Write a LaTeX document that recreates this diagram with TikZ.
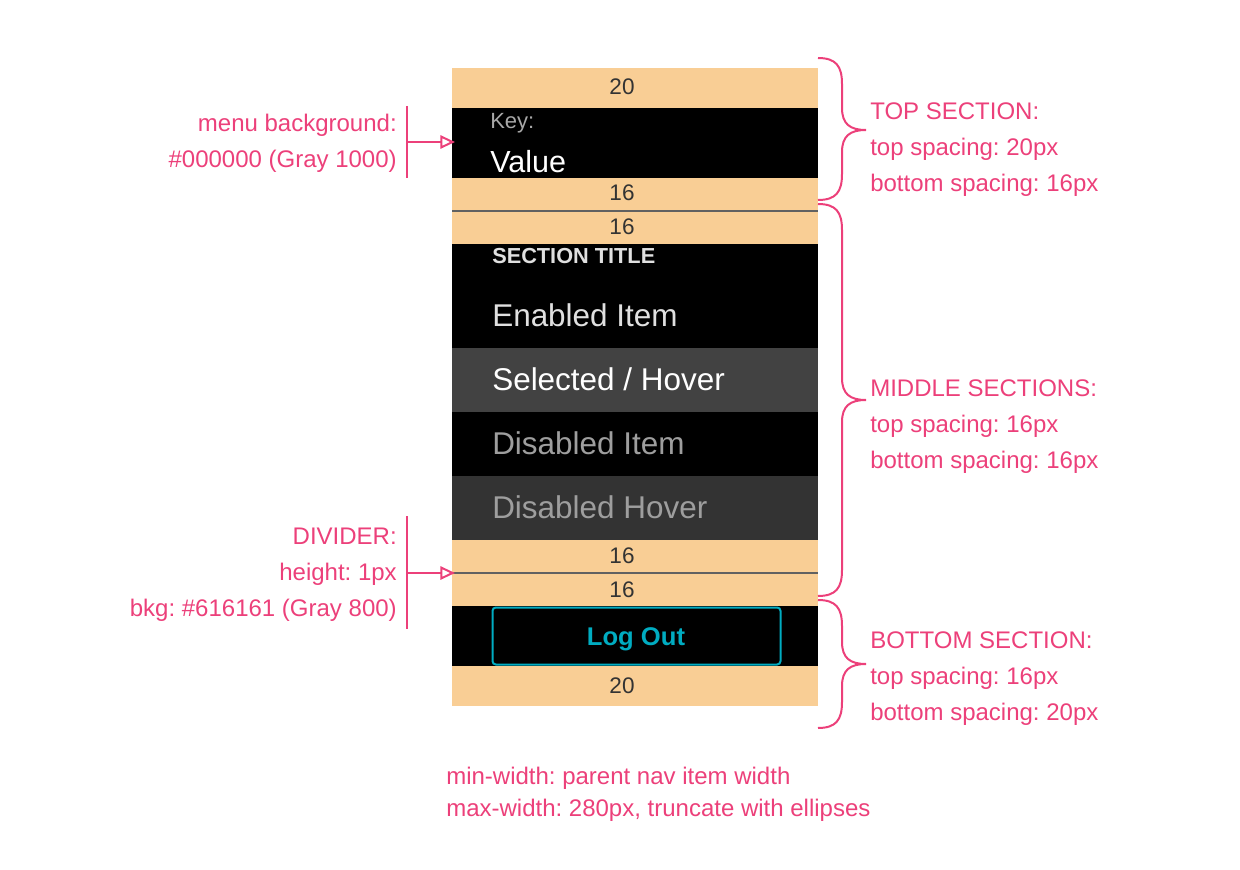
\documentclass[tikz,border=0pt]{standalone}
\usepackage{fontspec}
\setmainfont{Liberation Sans}
\frenchspacing
\usetikzlibrary{arrows.meta}
\definecolor{annoc}{HTML}{EC407A}
\definecolor{orangec}{HTML}{F9CE95}
\definecolor{divc}{HTML}{616161}
\definecolor{selc}{HTML}{424242}
\definecolor{dishc}{HTML}{333333}
\definecolor{numc}{HTML}{333333}
\definecolor{keyc}{HTML}{A8A8A8}
\definecolor{itemc}{HTML}{E0E0E0}
\definecolor{disc}{HTML}{9E9E9E}
\definecolor{cyanc}{HTML}{00ACC1}
\newcommand{\mybrace}[3]{%
  \draw[brace] (818,#1) .. controls (836,#1) and (842,{#1+8}) .. (842,{#1+26})
    -- (842,{#2-22}) .. controls (842,{#2-6}) and (850,#2) .. (866,#2)
    .. controls (850,#2) and (842,{#2+6}) .. (842,{#2+22})
    -- (842,{#3-26}) .. controls (842,{#3-8}) and (836,#3) .. (818,#3);}
\begin{document}
\begin{tikzpicture}[x=0.75pt,y=-0.75pt,
  anno/.style={text=annoc, font=\fontsize{18}{18}\selectfont, inner sep=0},
  annoR/.style={anno, anchor=base west},
  annoL/.style={anno, anchor=base east},
  num/.style={text=numc, font=\fontsize{16.9}{17}\selectfont, inner sep=0, anchor=base},
  item/.style={font=\fontsize{23.6}{24}\selectfont, inner sep=0, anchor=base west},
  annoline/.style={draw=annoc, line width=1.5pt},
  brace/.style={draw=annoc, line width=1.5pt},
  pointer/.style={annoline, -{Triangle[open, length=11pt, width=10pt]}},
  divline/.style={draw=divc, line width=1.5pt}]
\useasboundingbox (0,0) rectangle (1240,870);
% menu rows
\fill[orangec] (452,68) rectangle (818,108);
\fill[black] (452,108) rectangle (818,178);
\fill[orangec] (452,178) rectangle (818,244);
\fill[black] (452,244) rectangle (818,348);
\fill[selc] (452,348) rectangle (818,412);
\fill[black] (452,412) rectangle (818,476);
\fill[dishc] (452,476) rectangle (818,540);
\fill[orangec] (452,540) rectangle (818,606);
\fill[black] (452,606) rectangle (818,666);
\fill[orangec] (452,666) rectangle (818,706);
\draw[divline] (452,211) -- (818,211);
\draw[divline] (452,573) -- (818,573);
\coordinate (menuL) at (455,142);
\coordinate (divL) at (455,573);
% numbers
\node[num] (n1) at (622,95) {20};
\node[num] (n2) at (622,201) {16};
\node[num] (n3) at (622,235) {16};
\node[num] (n4) at (622,563) {16};
\node[num] (n5) at (622,597) {16};
\node[num] (n6) at (622,693) {20};
% items
\node[anchor=base west, inner sep=0, text=keyc, font=\fontsize{16.5}{17}\selectfont] (key) at (490,129) {Key:};
\node[anchor=base west, inner sep=0, text=white, font=\fontsize{22.9}{23}\selectfont] (value) at (490,173) {Value};
\node[anchor=base west, inner sep=0, text=itemc, font=\bfseries\fontsize{16.3}{17}\selectfont] (stitle) at (492,264) {SECTION TITLE};
\node[item, text=itemc] (enabled) at (492,326) {Enabled Item};
\node[item, text=white] (selected) at (492,390) {Selected / Hover};
\node[item, text=disc] (disabled) at (492,454) {Disabled Item};
\node[item, text=disc] (dishover) at (492,518) {Disabled Hover};
\node[draw=cyanc, line width=1.5pt, rounded corners=2.5pt, minimum width=216pt, minimum height=42.75pt, inner sep=0] (logoutbtn) at (636.5,636) {};
\node[anchor=base, inner sep=0, text=cyanc, font=\bfseries\fontsize{19.2}{20}\selectfont] (logout) at (636,645) {Log Out};
% braces
\mybrace{58}{130}{200}
\mybrace{204}{400}{596}
\mybrace{600}{664}{728}
% right annotations
\node[annoR] (t1) at (870,120) {TOP SECTION:};
\node[annoR] (t2) at (870,156) {top spacing: 20px};
\node[annoR] (t3) at (870,192) {bottom spacing: 16px};
\node[annoR] (m1) at (870,396) {MIDDLE SECTIONS:};
\node[annoR] (m2) at (870,432) {top spacing: 16px};
\node[annoR] (m3) at (870,468) {bottom spacing: 16px};
\node[annoR] (b1) at (870,648) {BOTTOM SECTION:};
\node[annoR] (b2) at (870,684) {top spacing: 16px};
\node[annoR] (b3) at (870,720) {bottom spacing: 20px};
% left annotations
\node[annoL] (l1) at (397,132) {menu background:};
\node[annoL] (l2) at (397,168) {\#000000 (Gray 1000)};
\node[annoL] (d1) at (397,544) {DIVIDER:};
\node[annoL] (d2) at (397,580) {height: 1px};
\node[annoL] (d3) at (397,616) {bkg: \#616161 (Gray 800)};
\coordinate (bgbarT) at (407,106);
\coordinate (bgbarB) at (407,178);
\coordinate (bgbarM) at (407,142);
\draw[annoline] (bgbarT) -- (bgbarB);
\draw[pointer] (bgbarM) -- (menuL);
\coordinate (dvbarT) at (407,516);
\coordinate (dvbarB) at (407,629);
\coordinate (dvbarM) at (407,573);
\draw[annoline] (dvbarT) -- (dvbarB);
\draw[pointer] (dvbarM) -- (divL);
% bottom notes
\node[anno, anchor=base west] (w1) at (446,784) {min-width: parent nav item width};
\node[anno, anchor=base west] (w2) at (446,816) {max-width: 280px, truncate with ellipses};
\end{tikzpicture}
\end{document}
